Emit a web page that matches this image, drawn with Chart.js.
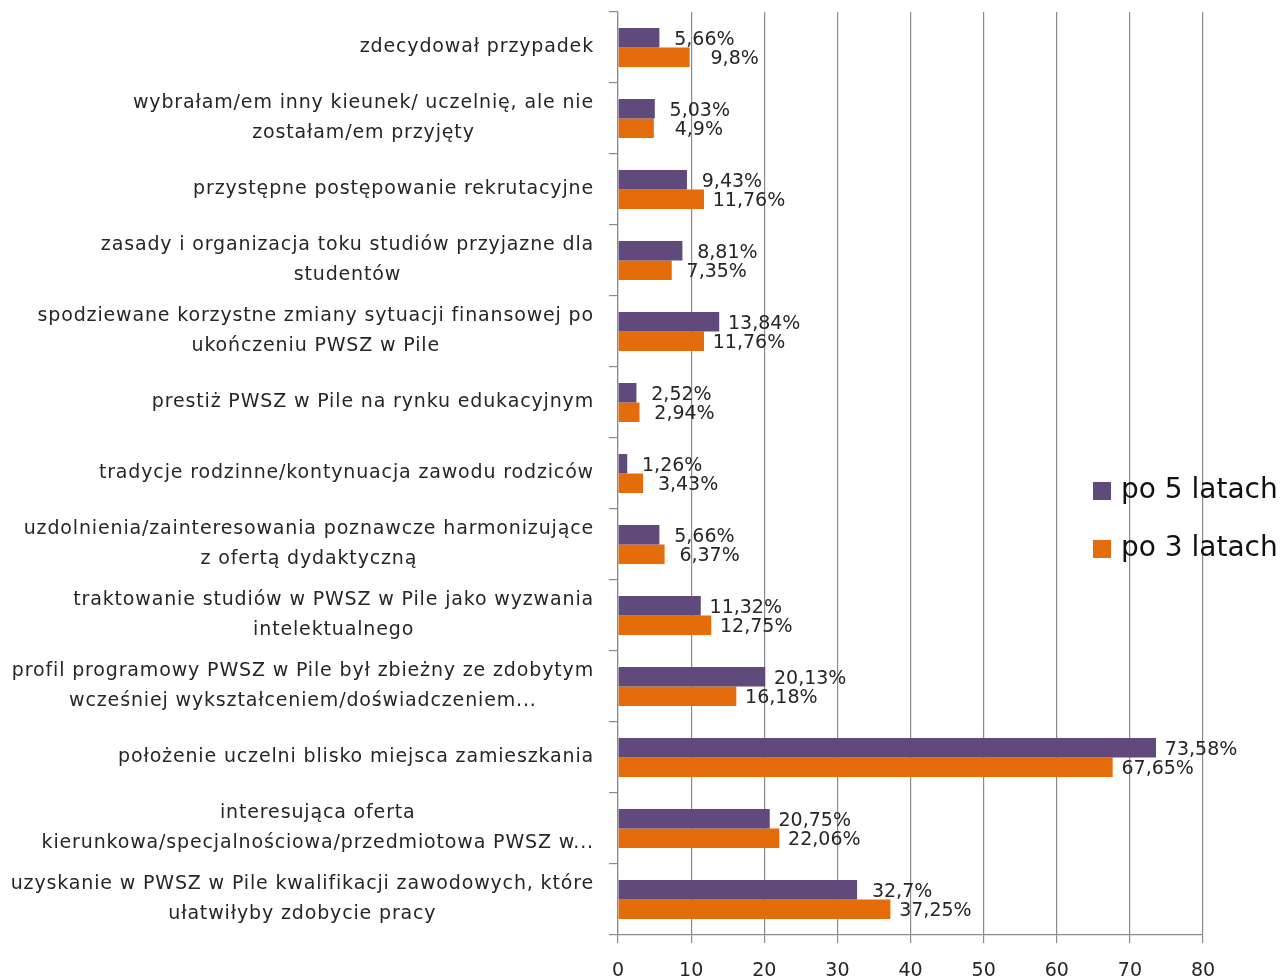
<!DOCTYPE html>
<html lang="pl">
<head>
<meta charset="utf-8">
<title>Powody wyboru PWSZ w Pile</title>
<script src="https://cdn.jsdelivr.net/npm/chart.js@4.4.0/dist/chart.umd.min.js"></script>
<style>
    html, body { margin: 0; padding: 0; background: #ffffff; }
    #wrap { width: 1283px; height: 978px; position: relative; }
</style>
</head>
<body>
<div id="wrap"><canvas id="wykres"></canvas></div>
<script>
// Dane
const kategorie = [
    ['zdecydował przypadek'],
    ['wybrałam/em inny kieunek/ uczelnię, ale nie', 'zostałam/em przyjęty'],
    ['przystępne postępowanie rekrutacyjne'],
    ['zasady i organizacja toku studiów przyjazne dla', 'studentów'],
    ['spodziewane korzystne zmiany sytuacji finansowej po', 'ukończeniu PWSZ w Pile'],
    ['prestiż PWSZ w Pile na rynku edukacyjnym'],
    ['tradycje rodzinne/kontynuacja zawodu rodziców'],
    ['uzdolnienia/zainteresowania poznawcze harmonizujące', 'z ofertą dydaktyczną'],
    ['traktowanie studiów w PWSZ w Pile jako wyzwania', 'intelektualnego'],
    ['profil programowy PWSZ w Pile był zbieżny ze zdobytym', 'wcześniej wykształceniem/doświadczeniem...'],
    ['położenie uczelni blisko miejsca zamieszkania'],
    ['interesująca oferta', 'kierunkowa/specjalnościowa/przedmiotowa PWSZ w...'],
    ['uzyskanie w PWSZ w Pile kwalifikacji zawodowych, które', 'ułatwiłyby zdobycie pracy']
];
const po5latach = [5.66, 5.03, 9.43, 8.81, 13.84, 2.52, 1.26, 5.66, 11.32, 20.13, 73.58, 20.75, 32.7];
const po3latach = [9.8, 4.9, 11.76, 7.35, 11.76, 2.94, 3.43, 6.37, 12.75, 16.18, 67.65, 22.06, 37.25];
const serie = ['po 5 latach', 'po 3 latach'];
const osX = { min: 0, max: 80, krok: 10 };

const kolory = {
    fiolet: '#604A7B',
    pomarancz: '#E46C0A',
    siatka: '#8a8a8a',
    tekst: '#262626'
};
const czcionka = "'DejaVu Sans', Verdana, sans-serif";

const formatuj = v => String(v).replace('.', ',') + '%';

// Etykiety kategorii: blok wyrównany do prawej, linie wyśrodkowane
const etykietyKategorii = {
    id: 'etykietyKategorii',
    afterDraw(chart) {
        const ctx = chart.ctx;
        const y = chart.scales.y;
        const prawo = chart.chartArea.left - 24;
        ctx.save();
        ctx.font = '19px ' + czcionka;
        ctx.letterSpacing = '0.85px';
        ctx.fillStyle = kolory.tekst;
        ctx.textAlign = 'center';
        ctx.textBaseline = 'middle';
        kategorie.forEach((linie, i) => {
            const srodek = y.getPixelForValue(i);
            const szer = Math.max(...linie.map(l => ctx.measureText(l).width));
            const x = prawo - szer / 2;
            const wys = 30;
            linie.forEach((l, j) => {
                ctx.fillText(l, x, srodek + (j - (linie.length - 1) / 2) * wys);
            });
        });
        ctx.restore();
    }
};

// Etykiety wartości przy słupkach
const etykietyWartosci = {
    id: 'etykietyWartosci',
    afterDatasetsDraw(chart) {
        const ctx = chart.ctx;
        ctx.save();
        ctx.font = '19px ' + czcionka;
        ctx.fillStyle = kolory.tekst;
        ctx.textAlign = 'center';
        ctx.textBaseline = 'middle';
        chart.data.datasets.forEach((ds, di) => {
            chart.getDatasetMeta(di).data.forEach((bar, i) => {
                ctx.fillText(formatuj(ds.data[i]), bar.x + 45, bar.y + 2);
            });
        });
        ctx.restore();
    }
};

// Legenda nałożona na obszar wykresu
const legenda = {
    id: 'legendaWlasna',
    afterDraw(chart) {
        const ctx = chart.ctx;
        ctx.save();
        ctx.font = '28px ' + czcionka;
        ctx.textBaseline = 'middle';
        ctx.textAlign = 'left';
        chart.data.datasets.forEach((ds, i) => {
            const y = 491 + i * 58;
            ctx.fillStyle = ds.backgroundColor;
            ctx.fillRect(1093, y - 9, 18, 18);
            ctx.fillStyle = '#111';
            ctx.fillText(ds.label, 1121, y);
        });
        ctx.restore();
    }
};

const ctx = document.getElementById('wykres').getContext('2d');
new Chart(ctx, {
    type: 'bar',
    data: {
        labels: kategorie.map(k => k.join(' ')),
        datasets: [
            {
                label: serie[0],
                data: po5latach,
                backgroundColor: kolory.fiolet,
                categoryPercentage: 0.55,
                barPercentage: 1.0
            },
            {
                label: serie[1],
                data: po3latach,
                backgroundColor: kolory.pomarancz,
                categoryPercentage: 0.55,
                barPercentage: 1.0
            }
        ]
    },
    options: {
        indexAxis: 'y',
        responsive: true,
        maintainAspectRatio: false,
        animation: false,
        layout: { padding: { top: 12, right: 80, left: 0, bottom: 0 } },
        plugins: {
            legend: { display: false },
            tooltip: { enabled: false }
        },
        scales: {
            x: {
                min: osX.min,
                max: osX.max,
                ticks: {
                    stepSize: osX.krok,
                    color: kolory.tekst,
                    font: { size: 19, family: czcionka },
                    padding: 17
                },
                grid: {
                    color: kolory.siatka,
                    lineWidth: 1.2,
                    tickLength: 8,
                    drawTicks: true
                },
                border: { color: kolory.siatka, width: 1.2 },
                afterFit(scale) { scale.height = 43; }
            },
            y: {
                ticks: { display: false },
                grid: {
                    drawOnChartArea: false,
                    drawTicks: true,
                    tickLength: 9,
                    color: kolory.siatka,
                    lineWidth: 1.2,
                    offset: true
                },
                border: { color: kolory.siatka, width: 1.2 },
                afterFit(scale) { scale.width = 618; }
            }
        }
    },
    plugins: [etykietyKategorii, etykietyWartosci, legenda]
});
</script>
</body>
</html>
